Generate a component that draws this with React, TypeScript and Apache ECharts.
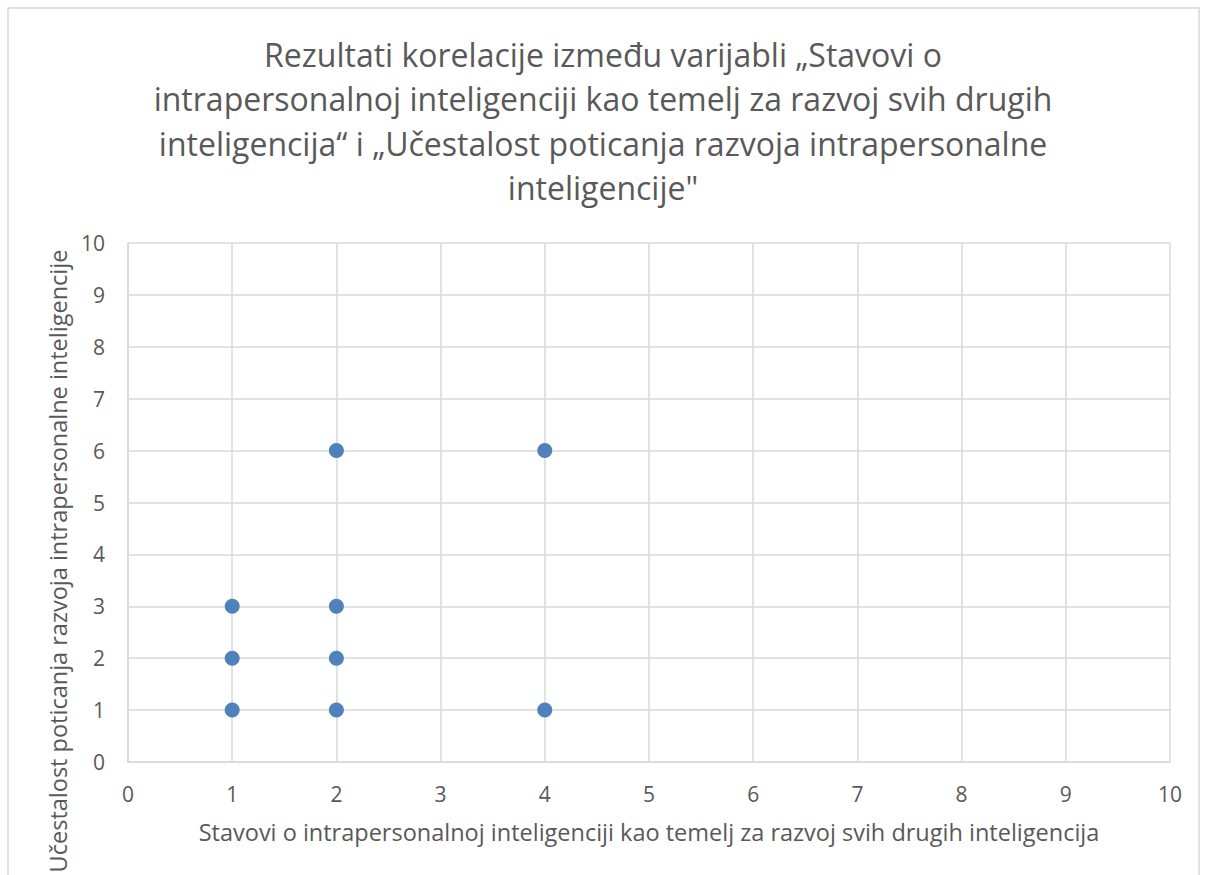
import React, { useEffect, useRef } from "react";
import * as echarts from "echarts";

const titleText =
  "Rezultati korelacije između varijabli „Stavovi o\nintrapersonalnoj inteligenciji kao temelj za razvoj svih drugih\ninteligencija“ i „Učestalost poticanja razvoja intrapersonalne\ninteligencije\"";
const xAxisName =
  "Stavovi o intrapersonalnoj inteligenciji kao temelj za razvoj svih drugih inteligencija";
const yAxisName = "Učestalost poticanja razvoja intrapersonalne inteligencije";

const xValues = [1, 1, 1, 2, 2, 2, 2, 4, 4];
const yValues = [1, 2, 3, 1, 2, 3, 6, 6, 1];

const FONT = "'Open Sans'";
const TEXT = "#595959";
const GRID = "#d9d9d9";

export default function App() {
  const ref = useRef<HTMLDivElement>(null);
  useEffect(() => {
    if (!ref.current) return;
    const chart = echarts.init(ref.current, undefined, { renderer: "svg" });
    const data = xValues.map((x, i) => [x, yValues[i]]);
    chart.setOption({
      animation: false,
      backgroundColor: "#ffffff",
      graphic: [
        {
          type: "rect",
          shape: { x: 8, y: 8, width: 1191, height: 900 },
          style: { fill: "none", stroke: GRID, lineWidth: 1.5 },
          silent: true,
        },
        {
          type: "text",
          x: 603,
          y: 32,
          style: {
            text: titleText,
            align: "center",
            verticalAlign: "top",
            fontFamily: FONT,
            fontSize: 32,
            lineHeight: 44.5,
            fill: TEXT,
          },
        },
        {
          type: "text",
          x: 58,
          y: 561,
          rotation: Math.PI / 2,
          style: {
            text: yAxisName,
            align: "center",
            verticalAlign: "middle",
            fontFamily: FONT,
            fontSize: 23.5,
            fill: TEXT,
          },
        },
      ],
      grid: { left: 128, right: 36, top: 243, bottom: 113 },
      xAxis: {
        type: "value",
        min: 0,
        max: 10,
        interval: 1,
        name: xAxisName,
        nameLocation: "middle",
        nameGap: 58,
        nameTextStyle: { fontFamily: FONT, fontSize: 23.5, color: TEXT },
        axisLine: { show: true, lineStyle: { color: GRID, width: 1.5 } },
        axisTick: { show: false },
        axisLabel: { fontFamily: FONT, fontSize: 21, color: TEXT, margin: 21 },
        splitLine: { show: true, lineStyle: { color: GRID, width: 1.5 } },
      },
      yAxis: {
        type: "value",
        min: 0,
        max: 10,
        interval: 1,
        axisLine: { show: true, lineStyle: { color: GRID, width: 1.5 } },
        axisTick: { show: false },
        axisLabel: { fontFamily: FONT, fontSize: 21, color: TEXT, margin: 23 },
        splitLine: { show: true, lineStyle: { color: GRID, width: 1.5 } },
      },
      series: [
        {
          type: "scatter",
          data,
          symbol: "circle",
          symbolSize: 15,
          itemStyle: { color: "#4f81bd", opacity: 1 },
        },
      ],
    });
    return () => chart.dispose();
  }, []);
  return (
    <div
      ref={ref}
      style={{ position: "fixed", left: 0, top: 0, width: 1206, height: 875 }}
    />
  );
}
